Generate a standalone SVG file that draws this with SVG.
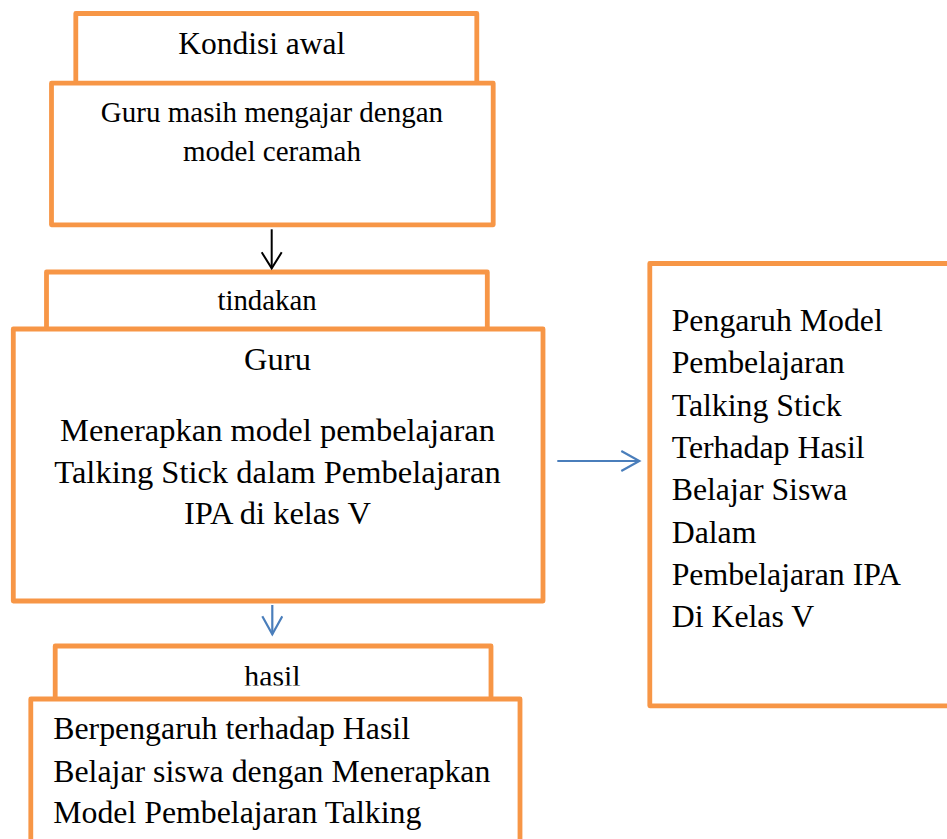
<svg xmlns="http://www.w3.org/2000/svg" width="947" height="839" viewBox="0 0 947 839">
<style>
.box{fill:#ffffff;stroke:#F79646;stroke-width:4.8;stroke-linejoin:round}
.t{font-family:"Liberation Serif","Times New Roman",serif;fill:#000000}
.c{text-anchor:middle}
.blk{stroke:#000000;stroke-width:2;fill:none}
.blu{stroke:#4A7EBB;stroke-width:2.2;fill:none}
</style>
<defs>
<marker id="ab" markerWidth="20" markerHeight="24" refX="17" refY="11" orient="auto" markerUnits="userSpaceOnUse">
<path d="M1,1 L17,11 L1,21" fill="none" stroke="#000000" stroke-width="2"/>
</marker>
<marker id="au" markerWidth="22" markerHeight="24" refX="19" refY="11" orient="auto" markerUnits="userSpaceOnUse">
<path d="M1,1 L19,11 L1,21" fill="none" stroke="#4A7EBB" stroke-width="2.2"/>
</marker>
<clipPath id="hc"><rect x="0" y="600" width="947" height="85.5"/></clipPath>
</defs>
<rect x="0" y="0" width="947" height="839" fill="#ffffff"/>
<g id="kondisi-awal">
<rect class="box" x="75.8" y="13.5" width="401" height="100"/>
<text class="t c" x="261.7" y="54.3" font-size="31.5">Kondisi awal</text>
</g>
<g id="kondisi-isi">
<rect class="box" x="51.5" y="83.2" width="441.7" height="141.6"/>
<text class="t c" font-size="29"><tspan x="272" y="121.7">Guru masih mengajar dengan</tspan><tspan x="272" y="160.7">model ceramah</tspan></text>
</g>
<g id="tindakan">
<rect class="box" x="46.5" y="272" width="440.8" height="80"/>
<text class="t c" x="267" y="310" font-size="28.8">tindakan</text>
</g>
<g id="tindakan-isi">
<rect class="box" x="13.3" y="329" width="529.7" height="272"/>
<text class="t c" font-size="32.5"><tspan x="277.5" y="370">Guru</tspan><tspan x="277.5" y="440.7">Menerapkan model pembelajaran</tspan><tspan x="277.5" y="482.7">Talking Stick dalam Pembelajaran</tspan><tspan x="277.5" y="524.3">IPA di kelas V</tspan></text>
</g>
<g id="hasil">
<rect class="box" x="55.2" y="646" width="435.8" height="80"/>
<text class="t c" x="272.5" y="686" font-size="29.8" clip-path="url(#hc)">hasil</text>
</g>
<g id="hasil-isi">
<rect class="box" x="30.8" y="699" width="489.2" height="170"/>
<text class="t" font-size="31.8"><tspan x="53.3" y="739.3">Berpengaruh terhadap Hasil</tspan><tspan x="53.3" y="781.7">Belajar siswa dengan Menerapkan</tspan><tspan x="53.3" y="822.7">Model Pembelajaran Talking</tspan></text>
</g>
<g id="pengaruh">
<rect class="box" x="649.8" y="263.5" width="320" height="442.3"/>
<text class="t" font-size="31.8"><tspan x="671.7" y="331">Pengaruh Model</tspan><tspan x="671.7" y="373.3">Pembelajaran</tspan><tspan x="671.7" y="415.6">Talking Stick</tspan><tspan x="671.7" y="457.9">Terhadap Hasil</tspan><tspan x="671.7" y="500.2">Belajar Siswa</tspan><tspan x="671.7" y="542.5">Dalam</tspan><tspan x="671.7" y="584.8">Pembelajaran IPA</tspan><tspan x="671.7" y="627.1">Di Kelas V</tspan></text>
</g>
<g id="connectors">
<line class="blk" x1="271.7" y1="229.3" x2="271.7" y2="268.3" marker-end="url(#ab)"/>
<line class="blu" x1="557.3" y1="461" x2="639.3" y2="461" marker-end="url(#au)"/>
<line class="blu" x1="272.3" y1="605" x2="272.3" y2="634.3" marker-end="url(#au)"/>
</g>
</svg>
